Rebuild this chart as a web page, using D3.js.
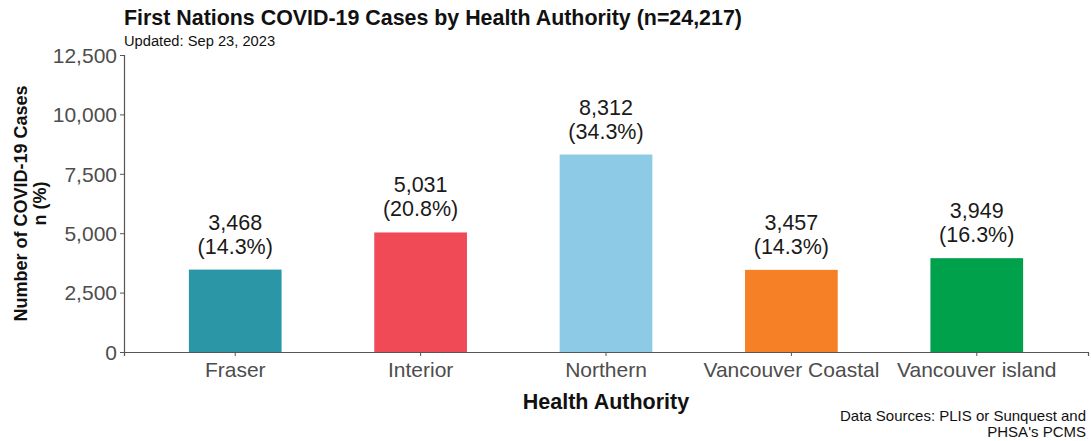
<!DOCTYPE html>
<html>
<head>
<meta charset="utf-8">
<script src="https://cdn.jsdelivr.net/npm/d3@7"></script>
<style>
  body { margin: 0; background: #fff; }
  text { font-family: "Liberation Sans", Arial, sans-serif; }
</style>
</head>
<body>
<div id="chart"></div>
<script>
const authorities = ["Fraser", "Interior", "Northern", "Vancouver Coastal", "Vancouver island"]
const cases = [3468, 5031, 8312, 3457, 3949]
const percents = ["14.3%", "20.8%", "34.3%", "14.3%", "16.3%"]
const colors = ["#2b96a6", "#ef4a55", "#8ccae6", "#f58025", "#00a14b"]
const yTicks = [0, 2500, 5000, 7500, 10000, 12500]

const W = 1091, H = 441
const MARGIN = { LEFT: 124, RIGHT: 3, TOP: 55, BOTTOM: 89 }
const WIDTH = W - MARGIN.LEFT - MARGIN.RIGHT
const HEIGHT = H - MARGIN.TOP - MARGIN.BOTTOM

const svg = d3.select("#chart").append("svg")
    .attr("width", W)
    .attr("height", H)

const g = svg.append("g")
    .attr("transform", `translate(${MARGIN.LEFT}, ${MARGIN.TOP})`)

// Scales
const x = d3.scaleBand()
    .domain(authorities)
    .range([0, WIDTH])
    .paddingInner(0.5)
    .paddingOuter(0.35)

const y = d3.scaleLinear()
    .domain([0, 12500])
    .range([HEIGHT, 0])

// Bars
const data = authorities.map((a, i) => ({ name: a, value: cases[i], pct: percents[i], color: colors[i] }))

g.selectAll("rect.bar")
    .data(data)
    .enter().append("rect")
    .attr("class", "bar")
    .attr("x", d => x(d.name))
    .attr("y", d => y(d.value))
    .attr("width", x.bandwidth())
    .attr("height", d => HEIGHT - y(d.value))
    .attr("fill", d => d.color)

// Bar labels
const labels = g.selectAll("text.lab")
    .data(data)
    .enter().append("text")
    .attr("class", "lab")
    .attr("text-anchor", "middle")
    .attr("font-size", "21.5px")
    .attr("fill", "#1a1a1a")
labels.append("tspan")
    .attr("x", d => x(d.name) + x.bandwidth() / 2)
    .attr("y", d => y(d.value) - 40)
    .text(d => d3.format(",")(d.value))
labels.append("tspan")
    .attr("x", d => x(d.name) + x.bandwidth() / 2)
    .attr("y", d => y(d.value) - 16)
    .text(d => `(${d.pct})`)

// Axes
const xAxis = g.append("g")
    .attr("transform", `translate(0, ${HEIGHT})`)
    .call(d3.axisBottom(x).tickSizeOuter(0).tickSize(4).tickPadding(6))
const yAxis = g.append("g")
    .call(d3.axisLeft(y).tickValues(yTicks).tickFormat(d3.format(",")).tickSizeOuter(0).tickSize(4).tickPadding(3))

for (const ax of [xAxis, yAxis]) {
    ax.select(".domain").attr("stroke", "#555").attr("stroke-width", 1.2)
    ax.selectAll(".tick line").attr("stroke", "#555")
    ax.selectAll(".tick text")
        .attr("fill", "#4d4d4d")
        .attr("font-size", "21px")
        .attr("font-family", "Liberation Sans, Arial, sans-serif")
}
yAxis.selectAll(".tick text").attr("dy", "0.35em")

// Titles
svg.append("text")
    .attr("x", 124).attr("y", 25)
    .attr("font-size", "21.4px").attr("font-weight", "bold").attr("fill", "#111")
    .text("First Nations COVID-19 Cases by Health Authority (n=24,217)")
svg.append("text")
    .attr("x", 124).attr("y", 46)
    .attr("font-size", "14.7px").attr("fill", "#111")
    .text("Updated: Sep 23, 2023")

// Axis labels
svg.append("text")
    .attr("x", MARGIN.LEFT + WIDTH / 2).attr("y", 409)
    .attr("text-anchor", "middle")
    .attr("font-size", "21.5px").attr("font-weight", "bold").attr("fill", "#111")
    .text("Health Authority")

const yLabel = svg.append("text")
    .attr("transform", `translate(27, ${MARGIN.TOP + HEIGHT / 2}) rotate(-90)`)
    .attr("text-anchor", "middle")
    .attr("font-size", "18px").attr("font-weight", "bold").attr("fill", "#111")
yLabel.append("tspan").attr("x", 0).attr("y", 0).text("Number of COVID-19 Cases")
yLabel.append("tspan").attr("x", 0).attr("y", 19).text("n (%)")

// Caption
const caption = svg.append("text")
    .attr("text-anchor", "end")
    .attr("font-size", "15px").attr("fill", "#111")
caption.append("tspan").attr("x", 1086).attr("y", 421).text("Data Sources: PLIS or Sunquest and")
caption.append("tspan").attr("x", 1086).attr("y", 437).text("PHSA's PCMS")
</script>
</body>
</html>
